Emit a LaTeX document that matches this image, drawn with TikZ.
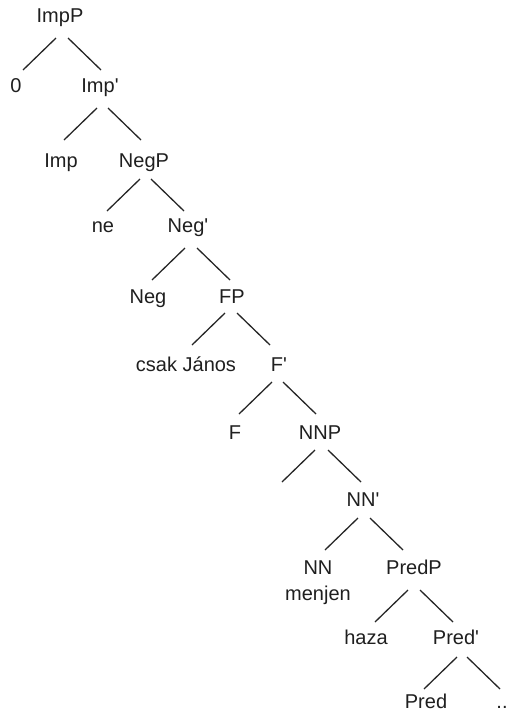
\documentclass[tikz,border=0pt]{standalone}
\usepackage{fontspec}
\setmainfont{Liberation Sans}
\usetikzlibrary{calc}
\begin{document}
\begin{tikzpicture}[x=1pt,y=-1pt,
  lbl/.style={inner sep=0pt, anchor=base, text=black!88, font=\fontsize{20}{24}\selectfont},
  br/.style={line width=1.3pt, draw=black!85}]
\useasboundingbox (0,0) rectangle (508,713);
% nodes
\node[lbl] (ImpP)  at (60,22)  {ImpP};
\node[lbl] (zero)  at (16,92)  {0};
\node[lbl] (Impb)  at (100,92) {Imp\textquotesingle};
\node[lbl] (Imp)   at (61,167) {Imp};
\node[lbl] (NegP)  at (144,167) {NegP};
\node[lbl] (ne)    at (103,232) {ne};
\node[lbl] (Negb)  at (188,232) {Neg\textquotesingle};
\node[lbl] (Neg)   at (148,303) {Neg};
\node[lbl] (FP)    at (232,303) {FP};
\node[lbl] (csak)  at (186,371) {csak János};
\node[lbl] (Fb)    at (279,371) {F\textquotesingle};
\node[lbl] (F)     at (235,439) {F};
\node[lbl] (NNP)   at (320,439) {NNP};
\node[lbl] (NNb)   at (363,506) {NN\textquotesingle};
\node[lbl] (NN)    at (318,574) {NN};
\node[lbl] (menjen) at (318,600) {menjen};
\node[lbl] (PredP) at (414,574) {PredP};
\node[lbl] (haza)  at (366,644) {haza};
\node[lbl] (Predb) at (456,644) {Pred\textquotesingle};
\node[lbl] (Pred)  at (426,708) {Pred};
\node[lbl] (dots)  at (502,708) {..};
% branches
\draw[br] ($(ImpP.base)+(-4,16)$) -- ++(-33,32);
\draw[br] ($(ImpP.base)+(8,16)$) -- ++(33,32);
\draw[br] ($(Impb.base)+(-3,16)$) -- ++(-33,32);
\draw[br] ($(Impb.base)+(8,16)$) -- ++(33,32);
\draw[br] ($(NegP.base)+(-4,12)$) -- ++(-33,32);
\draw[br] ($(NegP.base)+(7,12)$) -- ++(33,32);
\draw[br] ($(Negb.base)+(-3,16)$) -- ++(-33,32);
\draw[br] ($(Negb.base)+(9,16)$) -- ++(33,32);
\draw[br] ($(FP.base)+(-7,10)$) -- ++(-33,32);
\draw[br] ($(FP.base)+(5,10)$) -- ++(33,32);
\draw[br] ($(Fb.base)+(-7,11)$) -- ++(-33,32);
\draw[br] ($(Fb.base)+(4,11)$) -- ++(33,32);
\draw[br] ($(NNP.base)+(-5,11)$) -- ++(-33,32);
\draw[br] ($(NNP.base)+(8,11)$) -- ++(33,32);
\draw[br] ($(NNb.base)+(-5,12)$) -- ++(-33,32);
\draw[br] ($(NNb.base)+(7,12)$) -- ++(33,32);
\draw[br] ($(PredP.base)+(-6,16)$) -- ++(-33,32);
\draw[br] ($(PredP.base)+(6,16)$) -- ++(33,32);
\draw[br] ($(Predb.base)+(1,13)$) -- ++(-33,32);
\draw[br] ($(Predb.base)+(11,13)$) -- ++(33,32);
\end{tikzpicture}
\end{document}
